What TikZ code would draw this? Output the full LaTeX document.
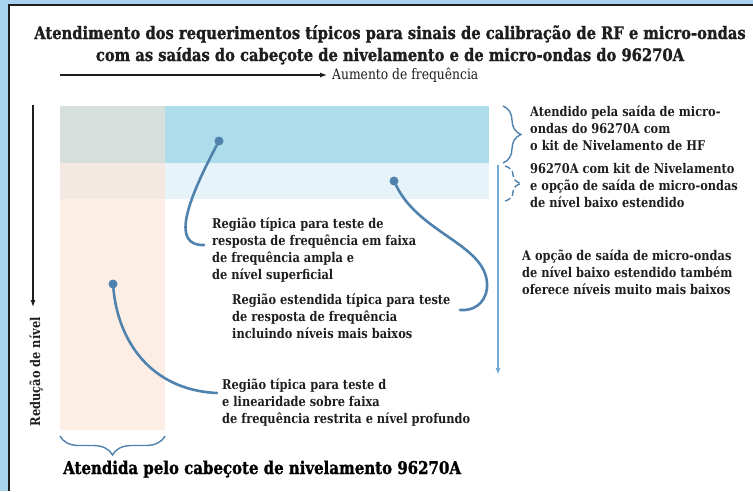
\documentclass[tikz,border=0pt]{standalone}
\usepackage{fontspec}
\setmainfont{DejaVu Serif}[FakeStretch=0.85]
\newfontfamily\heavyfont{DejaVu Serif}[FakeStretch=0.85, BoldFeatures={FakeBold=1.2}]
\usetikzlibrary{positioning,arrows.meta,decorations.pathreplacing}

\definecolor{framebg}{HTML}{A8D3EE}
\definecolor{topgrey}{HTML}{D6DFDC}
\definecolor{topcyan}{HTML}{ADDCEA}
\definecolor{midpink}{HTML}{F3E8E2}
\definecolor{midpale}{HTML}{E6F3F9}
\definecolor{lowpink}{HTML}{FDEEE5}
\definecolor{callblue}{HTML}{5082AE}
\definecolor{arrowblue}{HTML}{74A9DA}
\definecolor{inkgrey}{HTML}{1E1E1E}

\tikzset{
  note/.style={font=\fontsize{13.4}{16.8}\selectfont\bfseries, text=inkgrey, align=left, inner sep=0pt, anchor=base west},
  callout/.style={draw=callblue, line width=2.6pt, line cap=round},
  dotmark/.style={circle, fill=callblue, inner sep=0pt, minimum size=9pt},
  bracemark/.style={draw=callblue, line width=1.4pt, decorate, decoration={brace, amplitude=18pt}},
}

\begin{document}
\begin{tikzpicture}[x=1pt,y=-1pt]
  \useasboundingbox (0,0) rectangle (753,491);
  % frame
  \fill[framebg] (0,0) rectangle (753,491);
  \fill[white] (9,5) rectangle (753,491);
  \draw[line width=1.8pt, inkgrey] (9,491) -- (9,5) -- (753,5);

  % title (anchor is the last line)
  \node[font=\heavyfont\fontsize{17.3}{22}\selectfont\bfseries, text=inkgrey, align=center, anchor=base, inner sep=0pt] (title) at (390,61)
    {Atendimento dos requerimentos típicos para sinais de calibração de RF e micro-ondas\\
     com as saídas do cabeçote de nivelamento e de micro-ondas do 96270A};

  % axes
  \node[note, anchor=west, font=\fontsize{14.5}{16}\selectfont] (freqlab) at (332,75) {Aumento de frequência};
  \coordinate (freqtail) at (60,75);
  \draw[line width=1.2pt, inkgrey, -{Latex[length=7pt,width=5pt]}] (freqtail) -- ([xshift=-5pt]freqlab.west);
  \node[note, rotate=90, anchor=east] (levellab) at (36,317) {Redução de nível};
  \coordinate (leveltop) at (33,105);
  \draw[line width=1.2pt, inkgrey, -{Latex[length=7pt,width=5pt]}] (leveltop) -- ([yshift=10pt]levellab.east -| leveltop);

  % regions
  \fill[topgrey] (60,106) rectangle (165,163);
  \fill[topcyan] (165,106) rectangle (489,163);
  \fill[midpink] (60,163) rectangle (165,199);
  \fill[midpale] (165,163) rectangle (489,199);
  \fill[lowpink] (60,199) rectangle (165,430);

  % extended low level
  \coordinate (lowtop) at (498,165);
  \coordinate (lowend) at (498,375);
  \draw[line width=1.6pt, arrowblue, -{Latex[length=7pt,width=5pt]}] (lowtop) -- (lowend);

  % braces
  \coordinate (hftop) at (503,106);
  \coordinate (hfbot) at (503,163);
  \draw[bracemark] (hftop) -- (hfbot);
  \coordinate (extop) at (505,166);
  \coordinate (exbot) at (505,201);
  \draw[bracemark, dash pattern=on 6pt off 3pt, decoration={amplitude=16pt}] (extop) -- (exbot);
  \coordinate (headr) at (165,436);
  \coordinate (headl) at (60,436);
  \draw[bracemark, decoration={amplitude=19pt}] (headr) -- (headl);

  \node[note] (hfnote) at (530,150) {Atendido pela saída de micro-\\ondas do 96270A com\\o kit de Nivelamento de HF};
  \node[note] (exnote) at (530,207) {96270A com kit de Nivelamento\\e opção de saída de micro-ondas\\de nível baixo estendido};
  \node[note] (lownote) at (522,294) {A opção de saída de micro-ondas\\de nível baixo estendido também\\oferece níveis muito mais baixos};
  \node[font=\heavyfont\fontsize{17.6}{20}\selectfont\bfseries, text=black, inner sep=0pt, anchor=base west] (headnote) at (63,474)
    {Atendida pelo cabeçote de nivelamento 96270A};

  % callouts
  \node[dotmark] (wide) at (219,141) {};
  \node[note] (widenote) at (212,279) {Região típica para teste de\\resposta de frequência em faixa\\de frequência ampla e\\de nível superficial};
  \coordinate (wideend) at (204,245);
  \draw[callout] (wide) .. controls (185,205) and (172,246) .. (wideend);

  \node[dotmark] (ext) at (394,181) {};
  \node[note] (extnote) at (232,338) {Região estendida típica para teste\\de resposta de frequência\\incluindo níveis mais baixos};
  \coordinate (extend) at (460,310);
  \draw[callout] (ext) .. controls (420,235) and (490,245) .. (487,288) .. controls (485,305) and (472,311) .. (extend);

  \node[dotmark] (deep) at (113,284) {};
  \node[note] (deepnote) at (222,423) {Região típica para teste d\\e linearidade sobre faixa\\de frequência restrita e nível profundo};
  \coordinate (deepend) at (217,393);
  \draw[callout] (deep) .. controls (118,340) and (150,390) .. (deepend);
\end{tikzpicture}
\end{document}
